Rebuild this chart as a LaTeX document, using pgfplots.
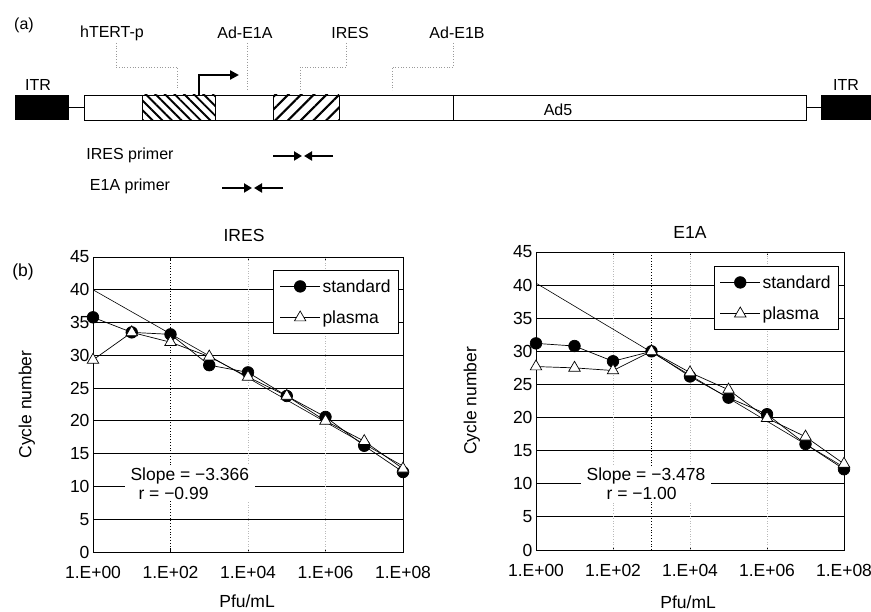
\documentclass[border=0pt]{standalone}
\usepackage{fontspec}
\setmainfont{Liberation Sans}
\usepackage{pgfplots}
\pgfplotsset{compat=1.18}
\usetikzlibrary{patterns.meta, arrows.meta}

\newcommand{\chartfont}{\fontsize{17.5}{19}\selectfont}
\newcommand{\diagfont}{\fontsize{16}{18}\selectfont}

\begin{document}
\begin{tikzpicture}[x=1pt, y=1pt]
\useasboundingbox (0,0) rectangle (871,612);

% ---- panel (a): vector map
\begin{scope}[font=\diagfont]
\node at (24,587) {(a)};
\fill[black] (15,517) rectangle (69,492);
\draw[line width=0.8pt] (69,504.5) -- (84,504.5);
\draw[line width=0.8pt, fill=white] (84,517) rectangle (806,492);
\fill[pattern={Lines[angle=-45, distance=6.8pt, line width=1.9pt]}] (142,517) rectangle (215,492);
\fill[pattern={Lines[angle=45, distance=9pt, line width=2.1pt]}] (273,517) rectangle (339,492);
\draw[line width=0.8pt] (142,517) -- (142,492) (215,517) -- (215,492)
  (273,517) -- (273,492) (339,517) -- (339,492) (453,517) -- (453,492);
\draw[line width=0.8pt] (84,517) rectangle (806,492);
\draw[line width=0.8pt] (806,504.5) -- (821,504.5);
\fill[black] (821,517) rectangle (871,492);
\node at (38,527) {ITR};
\node at (846,527) {ITR};
\node at (558,502) {Ad5};
% promoter arrow
\draw[line width=2.2pt, -{Triangle[length=9pt, width=9pt]}] (199,516) -- (199,537) -- (239,537);
% leaders
\draw[gray!80, dotted, line width=0.7pt] (116,569) -- (116,545) -- (177,545) -- (177,524);
\draw[gray!80, dotted, line width=0.7pt] (247,569) -- (247,522);
\draw[gray!80, dotted, line width=0.7pt] (346,569) -- (346,545) -- (300,545) -- (300,522);
\draw[gray!80, dotted, line width=0.7pt] (453,569) -- (453,545) -- (392,545) -- (392,522);
\node at (112,579) {hTERT-p};
\node at (245,579) {Ad-E1A};
\node at (350,579) {IRES};
\node at (457,579) {Ad-E1B};
% primers
\node at (130,457) {IRES primer};
\node at (130,426) {E1A primer};
\draw[line width=2.4pt, -{Triangle[length=8pt, width=9pt]}] (273,456) -- (302,456);
\draw[line width=2.4pt, -{Triangle[length=8pt, width=9pt]}] (333,456) -- (304,456);
\draw[line width=2.4pt, -{Triangle[length=8pt, width=9pt]}] (222,424) -- (252,424);
\draw[line width=2.4pt, -{Triangle[length=8pt, width=9pt]}] (283,424) -- (254,424);
\end{scope}

\node[font=\chartfont] at (23,340) {(b)};
\node[font=\chartfont] at (244,377) {IRES};
\node[font=\chartfont] at (690,380) {E1A};

% ---- IRES standard curve
\begin{axis}[
  at={(93pt,60pt)}, anchor=south west,
  scale only axis, width=310pt, height=295pt,
  xmode=log, xmin=1, xmax=1e8,
  ymin=0, ymax=45, ytick={0,5,...,45},
  xtick={1,1e2,1e4,1e6,1e8},
  xticklabels={1.E+00,1.E+02,1.E+04,1.E+06,1.E+08},
  minor xtick={},
  ymajorgrids,
  major grid style={black, line width=0.9pt},
  axis line style={black, line width=0.8pt},
  ytick style={draw=none},
  xtick style={black, line width=0.6pt},
  tick align=inside, major tick length=3pt,
  tick label style={font=\chartfont},
  label style={font=\chartfont},
  /pgf/number format/assume math mode=true,
  xticklabel style={yshift=-11pt},
  xlabel={Pfu/mL}, ylabel={Cycle number},
  xlabel style={at={(axis description cs:0.497,-0.168)}, anchor=center},
  ylabel style={at={(axis description cs:-0.213,0.5)}, anchor=center},
  legend cell align=left,
  legend style={at={(0.987,0.956)}, anchor=north east,
                font=\chartfont, draw=black, line width=0.7pt, fill=white,
                inner xsep=6pt, inner ysep=7pt, row sep=13pt},
  legend image code/.code={
    \draw[mark repeat=2, mark phase=2]
      plot coordinates {(0pt,0pt) (20pt,0pt) (40pt,0pt)};},
]
% faint decade grid and the marked 1E+02 line
\draw[gray!55, dotted, line width=0.6pt]
  (axis cs:1e4,0) -- (axis cs:1e4,45) (axis cs:1e6,0) -- (axis cs:1e6,45);
\draw[black, dotted, line width=0.8pt] (axis cs:100,0) -- (axis cs:100,45);
\addplot[black, line width=0.7pt, mark=*, mark size=5.8pt,
         mark options={fill=black, solid}] coordinates {
  (1,35.8) (10,33.5) (100,33.2) (1000,28.5) (10000,27.4)
  (100000,23.8) (1000000,20.6) (10000000,16.2) (100000000,12.2)};
\addplot[black, line width=0.7pt, mark=triangle*, mark size=6.6pt,
         mark options={fill=white, draw=black, solid}] coordinates {
  (1,29.3) (10,33.5) (100,32.0) (1000,29.8) (10000,26.7)
  (100000,23.8) (1000000,20.0) (10000000,16.9) (100000000,12.7)};
\addplot[black, line width=0.6pt, forget plot] coordinates {(1,40.0) (100000000,13.1)};
\legend{standard, plasma}
\node[fill=white, font=\chartfont, align=left, inner xsep=6pt, inner ysep=2pt]
  at (axis cs:316,10.45) {Slope = −3.366\\\hspace{8pt}r = −0.99};
\end{axis}

% ---- E1A standard curve
\begin{axis}[
  at={(536pt,62pt)}, anchor=south west,
  scale only axis, width=308pt, height=298pt,
  xmode=log, xmin=1, xmax=1e8,
  ymin=0, ymax=45, ytick={0,5,...,45},
  xtick={1,1e2,1e4,1e6,1e8},
  xticklabels={1.E+00,1.E+02,1.E+04,1.E+06,1.E+08},
  minor xtick={},
  ymajorgrids,
  major grid style={black, line width=0.9pt},
  axis line style={black, line width=0.8pt},
  ytick style={draw=none},
  xtick style={black, line width=0.6pt},
  tick align=inside, major tick length=3pt,
  tick label style={font=\chartfont},
  label style={font=\chartfont},
  /pgf/number format/assume math mode=true,
  xticklabel style={yshift=-11pt},
  xlabel={Pfu/mL}, ylabel={Cycle number},
  xlabel style={at={(axis description cs:0.494,-0.175)}, anchor=center},
  ylabel style={at={(axis description cs:-0.208,0.5)}, anchor=center},
  legend cell align=left,
  legend style={at={(0.984,0.953)}, anchor=north east,
                font=\chartfont, draw=black, line width=0.7pt, fill=white,
                inner xsep=6pt, inner ysep=7pt, row sep=13pt},
  legend image code/.code={
    \draw[mark repeat=2, mark phase=2]
      plot coordinates {(0pt,0pt) (20pt,0pt) (40pt,0pt)};},
]
\draw[gray!55, dotted, line width=0.6pt]
  (axis cs:1e2,0) -- (axis cs:1e2,45) (axis cs:1e4,0) -- (axis cs:1e4,45)
  (axis cs:1e6,0) -- (axis cs:1e6,45);
\draw[black, dotted, line width=0.8pt] (axis cs:1000,0) -- (axis cs:1000,45);
\addplot[black, line width=0.7pt, mark=*, mark size=5.8pt,
         mark options={fill=black, solid}] coordinates {
  (1,31.2) (10,30.8) (100,28.5) (1000,30.0) (10000,26.2)
  (100000,23.0) (1000000,20.5) (10000000,16.0) (100000000,12.2)};
\addplot[black, line width=0.7pt, mark=triangle*, mark size=6.6pt,
         mark options={fill=white, draw=black, solid}] coordinates {
  (1,27.7) (10,27.5) (100,27.1) (1000,30.0) (10000,26.8)
  (100000,24.2) (1000000,19.9) (10000000,17.1) (100000000,13.0)};
\addplot[black, line width=0.6pt, forget plot] coordinates {(1,40.3) (100000000,12.5)};
\legend{standard, plasma}
\node[fill=white, font=\chartfont, align=left, inner xsep=6pt, inner ysep=2pt]
  at (axis cs:720,10.04) {Slope = −3.478\\\hspace{20pt}r = −1.00};
\end{axis}
\end{tikzpicture}
\end{document}
